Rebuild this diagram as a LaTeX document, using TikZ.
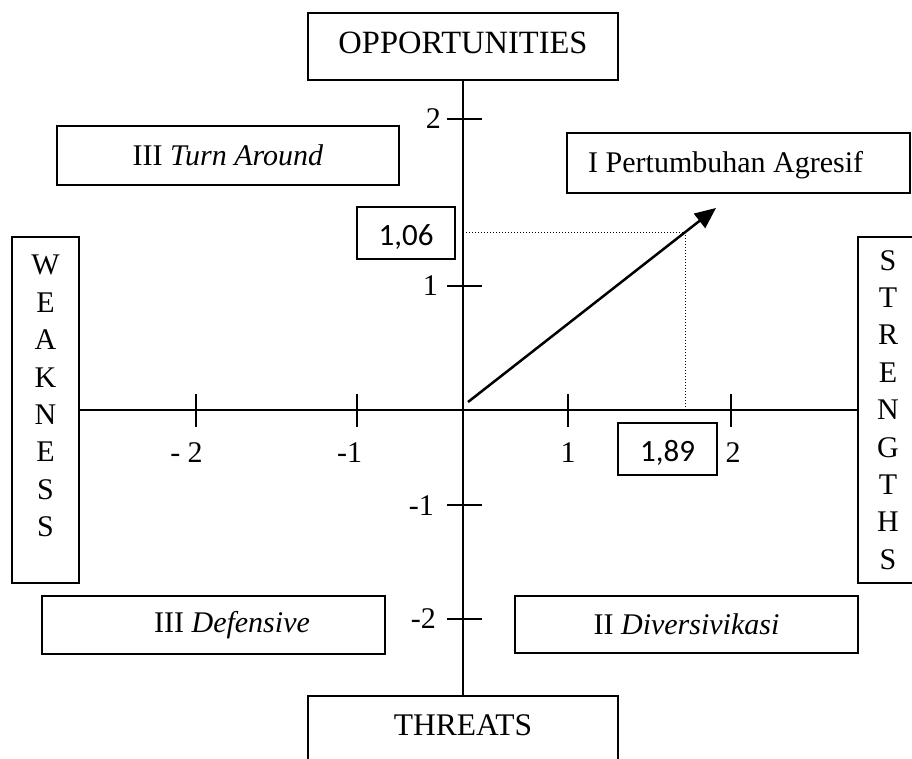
\documentclass[tikz,border=0pt]{standalone}
\usepackage{fontspec}
\setmainfont{Liberation Serif}
\newfontfamily\numfont{Carlito}
\usetikzlibrary{arrows.meta}
\begin{document}
\begin{tikzpicture}[x=1pt,y=-1pt,
  box/.style={draw, line width=1.6pt, inner sep=0pt},
  lbl/.style={font=\fontsize{30}{37.4}\selectfont, inner sep=0pt},
  biglbl/.style={font=\fontsize{32.5}{38}\selectfont, inner sep=0pt},
  numbox/.style={box, font=\numfont\fontsize{31}{34}\selectfont, text height=25pt, text depth=0pt},
  axis/.style={line width=1.6pt},
  guide/.style={dotted, line width=1pt},
  vector/.style={line width=2.5pt, -{Triangle[length=21pt,width=18pt]}}]
\useasboundingbox (0,0) rectangle (912,758);

% origin of the diagram
\coordinate (O) at (463,410);

% axis end boxes
\node[box, biglbl, text depth=8pt, minimum width=310pt, minimum height=67pt] (opp) at (463,46.5) {OPPORTUNITIES};
\node[box, minimum width=310pt, minimum height=78pt] (thr) at (463,735) {};
\node[biglbl, font=\fontsize{31.5}{38}\selectfont, anchor=base] (thrtext) at (463,735) {THREATS};
\node[box, minimum width=67pt, minimum height=346pt] (weak) at (45.5,410) {};
\node[lbl, align=center, anchor=north] (weaktext) at (45.5,255) {W\\E\\A\\K\\N\\E\\S\\S};
\node[box, lbl, align=center, minimum width=60pt, minimum height=346pt] (str) at (888,410) {S\\T\\R\\E\\N\\G\\T\\H\\S};

% axes
\draw[axis] (opp.south) -- (thr.north);
\draw[axis] (weak.east) -- (str.west);

% ticks
\foreach \y in {119,286,505,619} \draw[axis] (447,\y) -- (482,\y);
\foreach \x in {196,357,568,731} \draw[axis] (\x,394) -- (\x,427);

% tick labels
\node[lbl, anchor=east] (y2) at (441,119) {2};
\node[lbl, anchor=east] (y1) at (438,286) {1};
\node[lbl, anchor=east] (ym1) at (434,506) {-1};
\node[lbl, anchor=east] (ym2) at (436,619) {-2};
\node[lbl, anchor=base] (xm2) at (186.5,462) {- 2};
\node[lbl, anchor=base] (xm1) at (349.5,462) {-1};
\node[lbl, anchor=base] (x1) at (568,462) {1};
\node[lbl, anchor=base] (x2) at (733,462) {2};

% position of the strategy point
\coordinate (p) at (685,232);
\draw[guide] (O |- p) -- (p) -- (p |- O);
\coordinate (a0) at (468,402);
\coordinate (a1) at (716,208);
\draw[vector] (a0) -- (a1);

\node[numbox, minimum width=98pt, minimum height=52pt] (v106) at (406,233) {1,06};
\node[numbox, minimum width=99pt, minimum height=52pt] (v189) at (667.5,449) {1,89};

% quadrant boxes
\node[box, minimum width=343pt, minimum height=60pt] (q1) at (738.5,163) {};
\node[lbl, anchor=base west] (q1text) at (588,172) {I Pertumbuhan Agresif};
\node[box, lbl, minimum width=342pt, minimum height=59pt] (q3a) at (228,155.5) {III \textit{Turn Around}};
\node[box, minimum width=343pt, minimum height=58pt] (q3b) at (213.5,625) {};
\node[lbl] (q3btext) at (232,625) {III \textit{Defensive}};
\node[box, lbl, minimum width=343pt, minimum height=57pt] (q2) at (686.5,624.5) {II \textit{Diversivikasi}};
\end{tikzpicture}
\end{document}
